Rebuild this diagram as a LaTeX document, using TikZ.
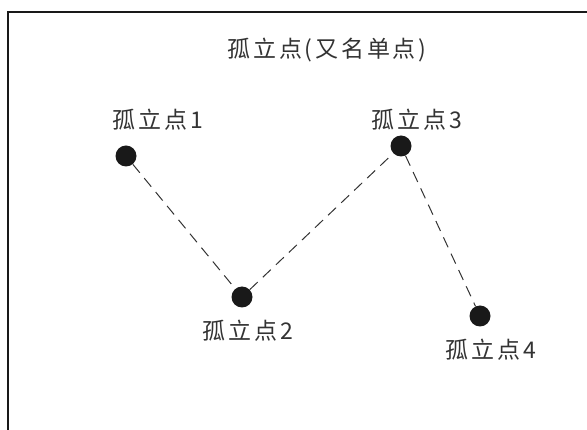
\documentclass[tikz,border=0pt]{standalone}
\usepackage{fontspec}
\newfontfamily\cjk[LetterSpace=12]{Noto Sans CJK SC}
\usepackage{xcolor}
\usepackage{tikz}
\usetikzlibrary{shapes}

\begin{document}
\begin{tikzpicture}[x=1pt, y=-1pt,
    dot/.style={circle, fill=black!90, inner sep=0pt, minimum size=21pt},
    lbl/.style={inner sep=0pt, text=black!80, font=\cjk\fontsize{23pt}{26pt}\selectfont},
    link/.style={draw=black!80, line width=1pt, dash pattern=on 11pt off 7pt}]
        \useasboundingbox (0, 0) rectangle (587, 430);
        \draw[line width=1.3pt, black!90] (8, 430) -- (8, 12) -- (587, 12);

        \node[lbl] (title) at (327, 50) {孤立点(又名单点)};

        \node[dot] (p1) at (126, 156) {};
        \node[dot] (p2) at (242, 297) {};
        \node[dot] (p3) at (401, 146) {};
        \node[dot] (p4) at (480, 316) {};

        \node[lbl] (l1) at (158, 120) {孤立点1};
        \node[lbl] (l2) at (248, 331) {孤立点2};
        \node[lbl] (l3) at (417, 120) {孤立点3};
        \node[lbl] (l4) at (491, 350) {孤立点4};

        \draw[link] (p1) -- (p2);
        \draw[link] (p2) -- (p3);
        \draw[link] (p3) -- (p4);
    \end{tikzpicture}
\end{document}
